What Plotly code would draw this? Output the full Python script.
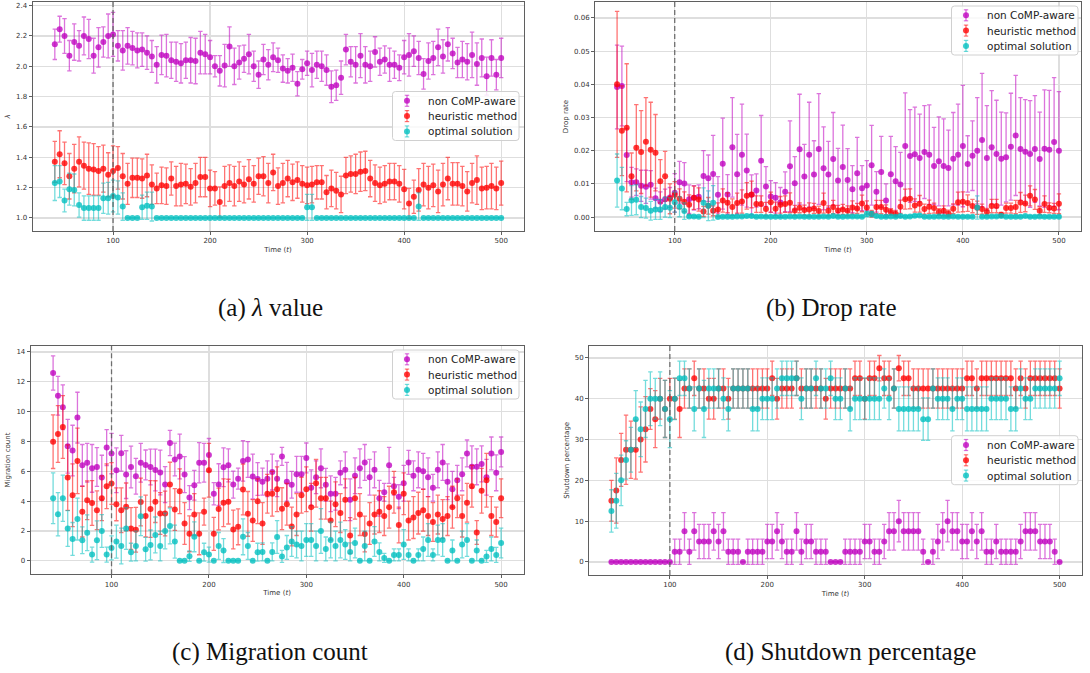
import plotly.graph_objects as go

# ---------------- data ----------------
time = list(range(40, 505, 5))  # 93 time steps

series_names = ["non CoMP-aware", "heuristic method", "optimal solution"]

# (a) lambda value
lam_non = [
    2.145, 2.245, 2.200, 2.070, 2.160, 2.135, 2.200, 2.180, 2.070, 2.125,
    2.160, 2.200, 2.210, 2.135, 2.105, 2.135, 2.120, 2.105, 2.110, 2.090,
    2.065, 2.010, 2.075, 2.070, 2.040, 2.030, 2.020, 2.040, 2.040, 2.035,
    2.090, 2.080, 2.060, 2.000, 1.970, 2.005, 2.130, 2.000, 2.025, 2.050,
    2.080, 2.000, 1.945, 2.045, 2.010, 2.060, 2.040, 1.985, 1.970, 1.990,
    1.885, 1.980, 2.020, 1.975, 2.010, 2.000, 1.975, 1.865, 1.875, 1.925,
    2.110, 2.030, 2.010, 2.070, 2.010, 2.000, 2.095, 2.030, 2.045, 2.010,
    2.010, 1.990, 2.060, 2.075, 2.100, 2.055, 1.950, 2.035, 2.055, 2.125,
    2.065, 2.145, 2.085, 2.025, 2.045, 2.030, 2.075, 2.015, 2.055, 1.935,
    2.055, 1.945, 2.055]
lam_non_err = [
    0.100, 0.085, 0.115, 0.100, 0.120, 0.100, 0.125, 0.130, 0.115, 0.130,
    0.100, 0.145, 0.145, 0.100, 0.130, 0.120, 0.110, 0.115, 0.110, 0.110,
    0.105, 0.120, 0.130, 0.140, 0.120, 0.130, 0.130, 0.120, 0.150, 0.150,
    0.140, 0.130, 0.110, 0.070, 0.100, 0.140, 0.130, 0.120, 0.110, 0.090,
    0.130, 0.100, 0.090, 0.100, 0.100, 0.095, 0.080, 0.090, 0.080, 0.090,
    0.080, 0.065, 0.080, 0.110, 0.090, 0.100, 0.100, 0.105, 0.100, 0.110,
    0.100, 0.100, 0.120, 0.145, 0.120, 0.100, 0.100, 0.090, 0.090, 0.110,
    0.090, 0.085, 0.110, 0.140, 0.100, 0.110, 0.100, 0.120, 0.110, 0.120,
    0.110, 0.110, 0.100, 0.100, 0.120, 0.120, 0.150, 0.140, 0.125, 0.125,
    0.120, 0.100, 0.130]
lam_heu = [
    1.370, 1.420, 1.360, 1.275, 1.325, 1.370, 1.345, 1.325, 1.320, 1.310,
    1.325, 1.285, 1.310, 1.330, 1.275, 1.225, 1.265, 1.265, 1.260, 1.280,
    1.220, 1.195, 1.215, 1.210, 1.260, 1.210, 1.220, 1.225, 1.205, 1.230,
    1.270, 1.270, 1.195, 1.195, 1.105, 1.210, 1.230, 1.210, 1.240, 1.220,
    1.255, 1.225, 1.275, 1.275, 1.230, 1.300, 1.210, 1.230, 1.260, 1.235,
    1.250, 1.225, 1.215, 1.220, 1.235, 1.235, 1.170, 1.195, 1.180, 1.155,
    1.280, 1.290, 1.290, 1.305, 1.310, 1.260, 1.230, 1.215, 1.225, 1.240,
    1.240, 1.225, 1.190, 1.095, 1.140, 1.185, 1.220, 1.200, 1.215, 1.175,
    1.220, 1.260, 1.225, 1.225, 1.210, 1.175, 1.230, 1.250, 1.195, 1.200,
    1.210, 1.195, 1.230]
lam_heu_err = [
    0.135, 0.155, 0.140, 0.150, 0.160, 0.165, 0.155, 0.170, 0.170, 0.160,
    0.155, 0.145, 0.165, 0.140, 0.150, 0.135, 0.130, 0.130, 0.130, 0.140,
    0.130, 0.100, 0.120, 0.120, 0.110, 0.130, 0.140, 0.130, 0.120, 0.130,
    0.130, 0.130, 0.120, 0.110, 0.100, 0.130, 0.120, 0.130, 0.130, 0.120,
    0.130, 0.120, 0.120, 0.130, 0.130, 0.120, 0.120, 0.130, 0.120, 0.120,
    0.120, 0.120, 0.120, 0.120, 0.110, 0.110, 0.110, 0.120, 0.120, 0.120,
    0.120, 0.120, 0.130, 0.130, 0.130, 0.120, 0.120, 0.120, 0.120, 0.120,
    0.120, 0.120, 0.130, 0.100, 0.110, 0.140, 0.140, 0.140, 0.140, 0.140,
    0.140, 0.140, 0.140, 0.140, 0.130, 0.130, 0.130, 0.160, 0.140, 0.140,
    0.150, 0.140, 0.145]
lam_opt = [
    1.230, 1.240, 1.115, 1.190, 1.185, 1.085, 1.065, 1.065, 1.065, 1.065,
    1.130, 1.130, 1.145, 1.135, 1.075, 1.000, 1.000, 1.000, 1.070, 1.080,
    1.075, 1.000, 1.000, 1.000, 1.000, 1.000, 1.000, 1.000, 1.000, 1.000,
    1.000, 1.000, 1.000, 1.000, 1.000, 1.000, 1.000, 1.000, 1.000, 1.000,
    1.000, 1.000, 1.000, 1.000, 1.000, 1.000, 1.000, 1.000, 1.000, 1.000,
    1.000, 1.000, 1.070, 1.070, 1.000, 1.000, 1.000, 1.000, 1.000, 1.000,
    1.000, 1.000, 1.000, 1.000, 1.000, 1.000, 1.000, 1.000, 1.000, 1.000,
    1.000, 1.000, 1.000, 1.000, 1.000, 1.075, 1.000, 1.000, 1.000, 1.000,
    1.000, 1.000, 1.000, 1.000, 1.000, 1.000, 1.000, 1.000, 1.000, 1.000,
    1.000, 1.000, 1.000]
lam_opt_err = [
    0.115, 0.105, 0.075, 0.105, 0.105, 0.080, 0.080, 0.080, 0.080, 0.080,
    0.100, 0.105, 0.105, 0.110, 0.090, 0.000, 0.000, 0.000, 0.080, 0.090,
    0.095, 0.000, 0.000, 0.000, 0.000, 0.000, 0.000, 0.000, 0.000, 0.000,
    0.000, 0.000, 0.000, 0.000, 0.000, 0.000, 0.000, 0.000, 0.000, 0.000,
    0.000, 0.000, 0.000, 0.000, 0.000, 0.000, 0.000, 0.000, 0.000, 0.000,
    0.000, 0.000, 0.085, 0.085, 0.000, 0.000, 0.000, 0.000, 0.000, 0.000,
    0.000, 0.000, 0.000, 0.000, 0.000, 0.000, 0.000, 0.000, 0.000, 0.000,
    0.000, 0.000, 0.000, 0.000, 0.000, 0.090, 0.000, 0.000, 0.000, 0.000,
    0.000, 0.000, 0.000, 0.000, 0.000, 0.000, 0.000, 0.000, 0.000, 0.000,
    0.000, 0.000, 0.000]

# (b) drop rate
drop_non = [
    0.0392, 0.0395, 0.0187, 0.0105, 0.0105, 0.0094, 0.0091, 0.0097, 0.0057, 0.0046,
    0.0054, 0.0059, 0.0073, 0.0105, 0.0101, 0.0054, 0.0058, 0.0061, 0.0124, 0.0117,
    0.0130, 0.0067, 0.0161, 0.0068, 0.0210, 0.0129, 0.0188, 0.0140, 0.0067, 0.0080,
    0.0170, 0.0092, 0.0062, 0.0058, 0.0044, 0.0076, 0.0153, 0.0102, 0.0204, 0.0122,
    0.0188, 0.0128, 0.0205, 0.0147, 0.0128, 0.0175, 0.0110, 0.0151, 0.0112, 0.0084,
    0.0132, 0.0087, 0.0095, 0.0156, 0.0076, 0.0136, 0.0050, 0.0129, 0.0108, 0.0098,
    0.0214, 0.0184, 0.0189, 0.0178, 0.0196, 0.0188, 0.0154, 0.0168, 0.0154, 0.0148,
    0.0176, 0.0188, 0.0214, 0.0160, 0.0185, 0.0200, 0.0232, 0.0178, 0.0210, 0.0190,
    0.0176, 0.0180, 0.0212, 0.0246, 0.0205, 0.0197, 0.0190, 0.0205, 0.0175, 0.0206,
    0.0203, 0.0226, 0.0200]
drop_non_err = [
    0.0126, 0.0120, 0.0080, 0.0045, 0.0040, 0.0047, 0.0050, 0.0043, 0.0030, 0.0030,
    0.0030, 0.0030, 0.0058, 0.0063, 0.0063, 0.0043, 0.0037, 0.0036, 0.0076, 0.0070,
    0.0116, 0.0055, 0.0137, 0.0060, 0.0150, 0.0120, 0.0152, 0.0110, 0.0060, 0.0050,
    0.0136, 0.0060, 0.0048, 0.0046, 0.0045, 0.0060, 0.0137, 0.0080, 0.0166, 0.0097,
    0.0158, 0.0102, 0.0167, 0.0125, 0.0100, 0.0140, 0.0097, 0.0126, 0.0094, 0.0071,
    0.0108, 0.0068, 0.0075, 0.0120, 0.0061, 0.0107, 0.0050, 0.0114, 0.0104, 0.0097,
    0.0160, 0.0140, 0.0142, 0.0132, 0.0140, 0.0150, 0.0116, 0.0134, 0.0142, 0.0114,
    0.0139, 0.0152, 0.0183, 0.0085, 0.0105, 0.0160, 0.0201, 0.0158, 0.0171, 0.0162,
    0.0140, 0.0134, 0.0161, 0.0181, 0.0155, 0.0157, 0.0161, 0.0161, 0.0141, 0.0177,
    0.0179, 0.0194, 0.0178]
drop_heu = [
    0.0400, 0.0260, 0.0269, 0.0123, 0.0209, 0.0196, 0.0227, 0.0203, 0.0194, 0.0108,
    0.0123, 0.0055, 0.0067, 0.0055, 0.0046, 0.0037, 0.0058, 0.0053, 0.0017, 0.0034,
    0.0019, 0.0023, 0.0050, 0.0043, 0.0030, 0.0042, 0.0047, 0.0064, 0.0068, 0.0039,
    0.0039, 0.0024, 0.0045, 0.0025, 0.0037, 0.0039, 0.0043, 0.0020, 0.0028, 0.0021,
    0.0023, 0.0026, 0.0018, 0.0042, 0.0019, 0.0030, 0.0020, 0.0023, 0.0019, 0.0029,
    0.0026, 0.0041, 0.0029, 0.0010, 0.0030, 0.0030, 0.0022, 0.0015, 0.0010, 0.0031,
    0.0054, 0.0055, 0.0035, 0.0040, 0.0024, 0.0031, 0.0027, 0.0015, 0.0019, 0.0011,
    0.0025, 0.0045, 0.0046, 0.0042, 0.0033, 0.0028, 0.0024, 0.0016, 0.0033, 0.0033,
    0.0007, 0.0027, 0.0027, 0.0030, 0.0044, 0.0041, 0.0064, 0.0053, 0.0019, 0.0039,
    0.0028, 0.0026, 0.0040]
drop_heu_err = [
    0.0220, 0.0135, 0.0193, 0.0070, 0.0130, 0.0125, 0.0133, 0.0143, 0.0115, 0.0065,
    0.0075, 0.0045, 0.0040, 0.0030, 0.0030, 0.0030, 0.0035, 0.0035, 0.0015, 0.0025,
    0.0015, 0.0020, 0.0035, 0.0030, 0.0025, 0.0030, 0.0035, 0.0040, 0.0040, 0.0025,
    0.0025, 0.0020, 0.0030, 0.0020, 0.0025, 0.0025, 0.0030, 0.0015, 0.0015, 0.0015,
    0.0020, 0.0015, 0.0015, 0.0030, 0.0015, 0.0020, 0.0015, 0.0015, 0.0015, 0.0020,
    0.0015, 0.0025, 0.0020, 0.0010, 0.0020, 0.0020, 0.0015, 0.0010, 0.0010, 0.0020,
    0.0030, 0.0030, 0.0020, 0.0025, 0.0015, 0.0020, 0.0015, 0.0010, 0.0015, 0.0010,
    0.0015, 0.0030, 0.0030, 0.0025, 0.0020, 0.0020, 0.0015, 0.0010, 0.0020, 0.0020,
    0.0007, 0.0015, 0.0015, 0.0020, 0.0030, 0.0025, 0.0030, 0.0030, 0.0012, 0.0025,
    0.0015, 0.0015, 0.0030]
drop_opt = [
    0.0110, 0.0086, 0.0024, 0.0050, 0.0052, 0.0030, 0.0027, 0.0019, 0.0023, 0.0023,
    0.0030, 0.0028, 0.0045, 0.0031, 0.0018, 0.0002, 0.0002, 0.0001, 0.0043, 0.0034,
    0.0043, 0.0000, 0.0001, 0.0001, 0.0001, 0.0002, 0.0002, 0.0003, 0.0003, 0.0001,
    0.0002, 0.0001, 0.0001, 0.0001, 0.0001, 0.0001, 0.0002, 0.0001, 0.0002, 0.0001,
    0.0001, 0.0001, 0.0001, 0.0002, 0.0001, 0.0003, 0.0001, 0.0001, 0.0002, 0.0002,
    0.0002, 0.0001, 0.0009, 0.0009, 0.0003, 0.0001, 0.0001, 0.0002, 0.0001, 0.0003,
    0.0001, 0.0002, 0.0004, 0.0005, 0.0001, 0.0001, 0.0001, 0.0002, 0.0001, 0.0001,
    0.0002, 0.0001, 0.0001, 0.0001, 0.0001, 0.0029, 0.0001, 0.0001, 0.0002, 0.0002,
    0.0003, 0.0001, 0.0001, 0.0001, 0.0001, 0.0003, 0.0001, 0.0001, 0.0002, 0.0001,
    0.0001, 0.0001, 0.0001]
drop_opt_err = [
    0.0080, 0.0064, 0.0020, 0.0045, 0.0045, 0.0032, 0.0030, 0.0028, 0.0030, 0.0030,
    0.0030, 0.0030, 0.0030, 0.0030, 0.0025, 0.0003, 0.0003, 0.0002, 0.0045, 0.0045,
    0.0052, 0.0003, 0.0003, 0.0003, 0.0003, 0.0003, 0.0003, 0.0003, 0.0003, 0.0003,
    0.0003, 0.0003, 0.0003, 0.0003, 0.0003, 0.0003, 0.0003, 0.0003, 0.0003, 0.0003,
    0.0003, 0.0003, 0.0003, 0.0003, 0.0003, 0.0003, 0.0003, 0.0003, 0.0003, 0.0003,
    0.0003, 0.0003, 0.0008, 0.0008, 0.0003, 0.0003, 0.0003, 0.0003, 0.0003, 0.0003,
    0.0003, 0.0003, 0.0003, 0.0003, 0.0003, 0.0003, 0.0003, 0.0003, 0.0003, 0.0003,
    0.0003, 0.0003, 0.0003, 0.0003, 0.0003, 0.0035, 0.0003, 0.0003, 0.0003, 0.0003,
    0.0003, 0.0003, 0.0003, 0.0003, 0.0003, 0.0003, 0.0003, 0.0003, 0.0003, 0.0003,
    0.0003, 0.0003, 0.0003]

# (c) migration count
mig_non = [
    12.59, 11.07, 10.29, 7.68, 7.39, 9.60, 6.40, 6.58, 6.20, 6.29,
    5.58, 7.59, 7.19, 6.07, 7.21, 5.78, 6.29, 5.67, 6.58, 6.43,
    6.29, 6.09, 5.92, 5.11, 7.90, 6.79, 7.00, 5.78, 4.24, 5.07,
    6.58, 6.58, 7.10, 4.50, 5.11, 6.27, 6.40, 5.11, 5.51, 6.70,
    6.79, 5.65, 5.49, 5.31, 5.50, 5.95, 5.50, 7.00, 5.30, 5.10,
    5.80, 5.80, 6.90, 4.90, 5.60, 6.20, 5.10, 4.50, 4.50, 5.90,
    6.10, 4.10, 5.70, 6.20, 6.60, 5.60, 6.10, 4.20, 4.60, 6.40,
    5.00, 4.30, 5.20, 6.60, 5.70, 6.10, 6.00, 5.60, 4.90, 6.10,
    6.60, 5.30, 4.80, 5.40, 5.80, 7.20, 6.30, 6.30, 6.50, 5.60,
    7.20, 5.90, 7.30]
mig_non_err = [
    1.15, 1.30, 1.50, 1.80, 1.70, 1.70, 1.40, 1.30, 1.60, 1.30,
    1.50, 1.20, 1.35, 1.50, 1.20, 1.60, 1.40, 1.20, 1.30, 1.00,
    1.20, 1.40, 1.50, 1.20, 0.85, 1.10, 1.50, 1.20, 0.80, 1.00,
    1.35, 1.30, 1.10, 0.75, 1.40, 1.30, 1.10, 0.90, 0.70, 1.35,
    1.20, 1.50, 1.10, 0.90, 1.20, 1.20, 1.20, 0.60, 1.30, 0.90,
    1.20, 1.20, 1.00, 1.20, 1.10, 1.30, 1.10, 1.20, 1.10, 0.80,
    1.20, 1.40, 1.20, 1.30, 1.20, 1.20, 1.20, 1.20, 0.60, 1.20,
    0.60, 0.80, 1.20, 0.80, 1.00, 1.20, 1.20, 1.30, 0.90, 1.20,
    1.20, 1.20, 1.20, 1.00, 1.10, 0.90, 1.40, 1.20, 1.20, 1.20,
    1.10, 1.20, 1.00]
mig_heu = [
    7.99, 8.50, 8.97, 5.58, 4.40, 6.70, 3.30, 4.06, 3.88, 3.39,
    4.20, 5.00, 5.18, 3.79, 3.39, 3.62, 2.17, 2.08, 3.95, 3.01,
    3.48, 3.97, 3.17, 3.17, 5.11, 3.44, 4.67, 2.50, 1.81, 3.10,
    1.81, 3.30, 6.07, 1.81, 3.48, 3.90, 3.97, 2.10, 2.28, 4.78,
    3.15, 2.70, 4.00, 2.50, 4.50, 4.50, 4.80, 3.50, 3.80, 2.30,
    3.10, 4.40, 4.80, 3.60, 5.20, 4.20, 4.20, 2.70, 3.80, 3.20,
    4.10, 1.70, 4.20, 3.10, 1.80, 2.50, 3.10, 3.30, 3.00, 3.60,
    4.60, 2.40, 4.50, 2.70, 2.90, 3.20, 3.40, 3.00, 2.60, 3.10,
    2.80, 3.00, 3.60, 4.20, 3.00, 3.90, 5.00, 1.90, 4.70, 5.40,
    3.00, 2.60, 4.20]
mig_heu_err = [
    1.80, 1.90, 2.10, 2.20, 2.10, 2.20, 1.70, 1.30, 1.50, 1.30,
    1.50, 1.50, 1.40, 1.10, 1.50, 1.60, 1.40, 1.50, 1.60, 1.40,
    1.90, 1.40, 1.40, 1.50, 1.50, 1.40, 1.50, 1.40, 1.20, 1.40,
    1.40, 0.90, 1.80, 1.10, 1.40, 1.60, 1.50, 1.30, 1.20, 1.70,
    1.50, 1.40, 1.50, 1.40, 1.30, 1.50, 1.50, 1.40, 1.40, 1.30,
    1.40, 1.20, 1.50, 1.60, 1.60, 1.40, 1.40, 1.30, 1.50, 1.30,
    1.40, 1.20, 1.40, 1.40, 1.20, 1.40, 1.30, 1.40, 1.30, 1.40,
    1.40, 1.20, 1.40, 1.30, 1.40, 1.40, 1.40, 1.30, 1.30, 1.30,
    1.30, 1.30, 1.40, 1.30, 1.40, 1.30, 1.40, 0.80, 1.50, 1.80,
    1.30, 1.00, 1.30]
mig_opt = [
    4.20, 3.13, 4.20, 2.17, 1.47, 2.80, 1.38, 1.88, 0.42, 1.38,
    2.00, 0.42, 0.87, 1.29, 1.00, 2.17, 0.58, 1.00, 2.99, 0.78,
    1.07, 1.74, 1.00, 2.00, 2.34, 1.29, 0.00, 0.00, 0.31, 1.61,
    0.00, 0.58, 0.42, 0.00, 1.00, 0.69, 0.00, 0.00, 0.00, 1.61,
    1.00, 0.00, 0.58, 0.60, 0.00, 0.60, 1.60, 0.30, 0.90, 1.30,
    1.10, 1.00, 1.40, 1.40, 1.00, 2.00, 0.80, 1.40, 1.00, 1.40,
    1.10, 0.60, 1.20, 0.00, 1.00, 0.00, 1.30, 0.60, 0.20, 0.00,
    0.40, 0.40, 1.10, 0.40, 0.00, 0.40, 0.80, 1.40, 0.40, 1.40,
    1.40, 0.00, 0.70, 0.00, 1.10, 1.40, 0.00, 0.70, 0.00, 0.30,
    0.80, 0.40, 1.20]
mig_opt_err = [
    1.70, 1.45, 1.55, 1.20, 1.10, 1.40, 0.90, 1.20, 0.50, 1.30,
    1.10, 0.50, 0.80, 1.10, 1.20, 1.40, 0.60, 1.00, 1.30, 0.80,
    1.00, 1.20, 1.00, 1.20, 1.20, 1.10, 0.00, 0.00, 0.35, 1.00,
    0.00, 0.60, 0.50, 0.00, 0.90, 0.80, 0.00, 0.00, 0.00, 1.20,
    0.90, 0.00, 0.60, 0.60, 0.00, 0.60, 1.10, 0.40, 0.80, 1.00,
    0.90, 1.00, 1.10, 1.10, 1.00, 1.50, 0.80, 1.20, 1.00, 1.20,
    1.00, 0.60, 1.00, 0.00, 1.00, 0.00, 1.00, 0.60, 0.30, 0.00,
    0.40, 0.40, 1.00, 0.40, 0.00, 0.40, 0.80, 1.10, 0.40, 1.00,
    1.10, 0.00, 0.70, 0.00, 0.90, 1.10, 0.00, 0.70, 0.00, 0.40,
    0.80, 0.50, 1.00]

# (d) shutdown percentage
shut_non = [
    0.0, 0.0, 0.0, 0.0, 0.0, 0.0, 0.0, 0.0, 0.0, 0.0,
    0.0, 0.0, 0.0, 2.5, 2.5, 7.5, 2.5, 7.5, 5.0, 5.0,
    5.0, 7.5, 5.0, 7.5, 2.5, 2.5, 2.5, 0.0, 2.5, 2.5,
    2.5, 2.5, 5.0, 5.0, 7.5, 5.0, 2.5, 2.5, 7.5, 2.5,
    5.0, 5.0, 2.5, 2.5, 2.5, 0.0, 0.0, 0.0, 2.5, 2.5,
    2.5, 2.5, 5.0, 5.0, 2.5, 2.5, 5.0, 7.5, 7.5, 10.0,
    7.5, 7.5, 7.5, 7.5, 2.5, 0.0, 2.5, 5.0, 7.5, 10.0,
    7.5, 7.5, 5.0, 5.0, 7.5, 5.0, 7.5, 2.5, 2.5, 5.0,
    2.5, 2.5, 2.5, 2.5, 5.0, 7.5, 7.5, 7.5, 5.0, 5.0,
    5.0, 2.5, 0.0]
shut_non_err = [
    0.0, 0.0, 0.0, 0.0, 0.0, 0.0, 0.0, 0.0, 0.0, 0.0,
    0.0, 0.0, 0.0, 3.1, 3.1, 4.6, 3.1, 4.6, 4.2, 4.2,
    4.2, 4.6, 4.2, 4.6, 3.1, 3.1, 3.1, 0.0, 3.1, 3.1,
    3.1, 3.1, 4.2, 4.2, 4.6, 4.2, 3.1, 3.1, 4.6, 3.1,
    4.2, 4.2, 3.1, 3.1, 3.1, 0.0, 0.0, 0.0, 3.1, 3.1,
    3.1, 3.1, 4.2, 4.2, 3.1, 3.1, 4.2, 4.6, 4.6, 5.1,
    4.6, 4.6, 4.6, 4.6, 3.1, 0.0, 3.1, 4.2, 4.6, 5.1,
    4.6, 4.6, 4.2, 4.2, 4.6, 4.2, 4.6, 3.1, 3.1, 4.2,
    3.1, 3.1, 3.1, 3.1, 4.2, 4.6, 4.6, 4.6, 4.2, 4.2,
    4.2, 3.1, 0.0]
shut_heu = [
    15.0, 17.5, 25.0, 27.5, 27.5, 27.5, 30.0, 32.5, 37.5, 35.0,
    40.0, 37.5, 40.0, 40.0, 37.5, 42.5, 42.5, 45.0, 42.5, 42.5,
    40.0, 40.0, 42.5, 42.5, 40.0, 42.5, 42.5, 42.5, 42.5, 42.5,
    42.5, 42.5, 42.5, 45.0, 40.0, 42.5, 42.5, 42.5, 45.0, 42.5,
    42.5, 42.5, 42.5, 42.5, 40.0, 42.5, 42.5, 42.5, 42.5, 42.5,
    45.0, 45.0, 40.0, 45.0, 45.0, 47.5, 45.0, 45.0, 42.5, 47.5,
    45.0, 45.0, 42.5, 42.5, 42.5, 42.5, 42.5, 42.5, 42.5, 42.5,
    42.5, 42.5, 42.5, 45.0, 45.0, 42.5, 45.0, 45.0, 45.0, 45.0,
    45.0, 45.0, 45.0, 42.5, 45.0, 42.5, 45.0, 45.0, 45.0, 45.0,
    45.0, 45.0, 42.5]
shut_heu_err = [
    5.0, 8.0, 6.5, 8.5, 7.0, 7.2, 8.0, 8.0, 5.0, 7.0,
    5.0, 7.0, 5.0, 5.0, 7.0, 4.8, 4.8, 4.2, 4.8, 4.8,
    5.0, 5.0, 4.8, 4.8, 5.0, 4.8, 4.8, 4.8, 4.8, 4.8,
    4.8, 4.8, 4.8, 4.2, 5.0, 4.8, 4.8, 4.8, 4.2, 4.8,
    4.8, 4.8, 4.8, 4.8, 5.0, 4.8, 4.8, 4.8, 4.8, 4.8,
    4.2, 4.2, 5.0, 4.2, 4.2, 3.1, 4.2, 4.2, 4.8, 3.1,
    4.2, 4.2, 4.8, 4.8, 4.8, 4.8, 4.8, 4.8, 4.8, 4.8,
    4.8, 4.8, 4.8, 4.2, 4.2, 4.8, 4.2, 4.2, 4.2, 4.2,
    4.2, 4.2, 4.2, 4.8, 4.2, 4.8, 4.2, 4.2, 4.2, 4.2,
    4.2, 4.2, 4.8]
shut_opt = [
    12.5, 15.0, 20.0, 25.0, 27.5, 35.0, 32.5, 37.5, 40.0, 40.0,
    40.0, 37.5, 35.0, 40.0, 45.0, 45.0, 42.5, 37.5, 42.5, 37.5,
    42.5, 42.5, 42.5, 40.0, 37.5, 42.5, 42.5, 42.5, 42.5, 37.5,
    37.5, 40.0, 40.0, 40.0, 42.5, 45.0, 45.0, 45.0, 45.0, 40.0,
    42.5, 42.5, 45.0, 42.5, 42.5, 45.0, 40.0, 40.0, 42.5, 37.5,
    40.0, 40.0, 40.0, 40.0, 40.0, 40.0, 42.5, 40.0, 42.5, 37.5,
    37.5, 37.5, 37.5, 37.5, 35.0, 35.0, 42.5, 40.0, 40.0, 40.0,
    37.5, 40.0, 40.0, 37.5, 37.5, 37.5, 37.5, 37.5, 40.0, 40.0,
    40.0, 40.0, 37.5, 37.5, 42.5, 40.0, 40.0, 42.5, 42.5, 42.5,
    42.5, 42.5, 45.0]
shut_opt_err = [
    5.2, 6.7, 6.2, 4.7, 5.5, 7.0, 6.7, 7.0, 6.6, 5.0,
    6.6, 7.0, 7.0, 5.1, 4.2, 4.2, 4.8, 5.4, 4.8, 7.0,
    4.8, 4.8, 4.8, 5.1, 5.4, 4.8, 4.8, 4.8, 4.8, 5.4,
    5.4, 5.1, 5.1, 5.1, 4.8, 4.2, 4.2, 4.2, 4.2, 5.1,
    4.8, 4.8, 4.2, 4.8, 4.8, 4.2, 5.1, 5.1, 4.8, 5.4,
    5.1, 5.1, 5.1, 5.1, 5.1, 5.1, 4.8, 5.1, 4.8, 5.4,
    5.4, 5.4, 5.4, 5.4, 5.2, 5.2, 4.8, 5.1, 5.1, 5.1,
    5.4, 5.1, 5.1, 5.4, 5.4, 5.4, 5.4, 5.4, 5.1, 5.1,
    5.1, 5.1, 5.4, 5.4, 4.8, 5.1, 5.1, 4.8, 4.8, 4.8,
    4.8, 4.8, 4.2]

x_ticks = [100, 200, 300, 400, 500]

# ---------------- styling ----------------
W, H = 1090, 673
RGB = [(191, 0, 191), (255, 0, 0), (0, 191, 191)]
MARK = ["rgba(%d,%d,%d,0.78)" % c for c in RGB]
ERRC = ["rgba(%d,%d,%d,0.55)" % c for c in RGB]
GRID = "rgb(222,222,222)"
FRAME = "rgb(95,95,95)"
TICKFONT = dict(family="DejaVu Sans", size=7, color="#333333")


def px_x(a, b):
    return [a / W, b / W]


def px_y(top, bottom):
    return [1 - bottom / H, 1 - top / H]


def PX(x):
    return x / W


def PY(y):
    return 1 - y / H


panels = [
    dict(sfx="", xd=px_x(32.5, 523.5), yd=px_y(2, 231), yr=[0.914, 2.424],
         ytick=dict(tickvals=[1.0, 1.2, 1.4, 1.6, 1.8, 2.0, 2.2, 2.4], tickformat=".1f"),
         ytitle="<i>λ</i>", data=[(lam_non, lam_non_err), (lam_heu, lam_heu_err), (lam_opt, lam_opt_err)],
         leg=(392.5, 91.5)),
    dict(sfx="2", xd=px_x(595, 1081), yd=px_y(2, 231), yr=[-0.0042, 0.0648],
         ytick=dict(tickvals=[0, 0.01, 0.02, 0.03, 0.04, 0.05, 0.06], tickformat=".2f"),
         ytitle="Drop rate", data=[(drop_non, drop_non_err), (drop_heu, drop_heu_err), (drop_opt, drop_opt_err)],
         leg=(951.5, 6)),
    dict(sfx="3", xd=px_x(30.7, 523.5), yd=px_y(345.7, 574.3), yr=[-0.9, 14.42],
         ytick=dict(tickvals=[0, 2, 4, 6, 8, 10, 12, 14]),
         ytitle="Migration count", data=[(mig_non, mig_non_err), (mig_heu, mig_heu_err), (mig_opt, mig_opt_err)],
         leg=(392.5, 350)),
    dict(sfx="4", xd=px_x(589, 1082), yd=px_y(345.7, 575), yr=[-3.2, 53.0],
         ytick=dict(tickvals=[0, 10, 20, 30, 40, 50]),
         ytitle="Shutdown percentage", data=[(shut_non, shut_non_err), (shut_heu, shut_heu_err), (shut_opt, shut_opt_err)],
         leg=(951.5, 435.7)),
]

fig = go.Figure()
shapes, annotations = [], []
layout = dict(width=W, height=H, autosize=False, margin=dict(l=0, r=0, t=0, b=0),
              paper_bgcolor="white", plot_bgcolor="white", showlegend=False,
              font=dict(family="DejaVu Sans", color="#222222"))

LEG_W, LEG_H = 126.5, 49
for p in panels:
    s = p["sfx"]
    xa, ya = "x" + s, "y" + s
    for k, (vals, errs) in enumerate(p["data"]):
        fig.add_trace(go.Scatter(
            x=time, y=vals, mode="markers", name=series_names[k],
            xaxis=xa, yaxis=ya,
            marker=dict(size=6, color=MARK[k], line=dict(width=0)),
            error_y=dict(type="data", array=errs, visible=True, color=ERRC[k],
                         thickness=1.3, width=2.2),
        ))
    layout["xaxis" + s] = dict(
        domain=p["xd"], anchor=ya, range=[17, 523], tickvals=x_ticks, automargin=False,
        showgrid=True, gridcolor=GRID, gridwidth=1.2, zeroline=False,
        showline=True, mirror=True, linecolor=FRAME, linewidth=1,
        ticks="outside", ticklen=3, tickcolor=FRAME, tickfont=TICKFONT,
        title=dict(text="Time (<i>t</i>)", font=dict(family="DejaVu Sans", size=7, color="#333333"), standoff=2),
    )
    layout["yaxis" + s] = dict(
        domain=p["yd"], anchor=xa, range=p["yr"], automargin=False, **p["ytick"],
        showgrid=True, gridcolor=GRID, gridwidth=1.2, zeroline=False,
        showline=True, mirror=True, linecolor=FRAME, linewidth=1,
        ticks="outside", ticklen=3, tickcolor=FRAME, tickfont=TICKFONT,
        title=dict(text=p["ytitle"], font=dict(family="DejaVu Sans", size=7, color="#333333"), standoff=4),
    )
    shapes.append(dict(
        type="line", xref=xa, yref=ya + " domain", x0=100, x1=100, y0=0, y1=1,
        line=dict(color="rgba(90,90,90,0.85)", width=1.3, dash="5px,3px"),
    ))

    # legend box (matplotlib style, rounded corners)
    lx, ly = p["leg"]
    r = 3
    x0, x1, y0, y1 = lx, lx + LEG_W, ly, ly + LEG_H
    path = (f"M {PX(x0 + r)},{PY(y0)} L {PX(x1 - r)},{PY(y0)} "
            f"Q {PX(x1)},{PY(y0)} {PX(x1)},{PY(y0 + r)} L {PX(x1)},{PY(y1 - r)} "
            f"Q {PX(x1)},{PY(y1)} {PX(x1 - r)},{PY(y1)} L {PX(x0 + r)},{PY(y1)} "
            f"Q {PX(x0)},{PY(y1)} {PX(x0)},{PY(y1 - r)} L {PX(x0)},{PY(y0 + r)} "
            f"Q {PX(x0)},{PY(y0)} {PX(x0 + r)},{PY(y0)} Z")
    shapes.append(dict(type="path", xref="paper", yref="paper", path=path,
                       fillcolor="rgba(255,255,255,0.82)",
                       line=dict(color="rgb(208,208,208)", width=1)))
    for k in range(3):
        cy = ly + 9.3 + 15.3 * k
        mx = lx + 14.5
        shapes.append(dict(type="line", xref="paper", yref="paper",
                           x0=PX(mx), x1=PX(mx), y0=PY(cy - 5.5), y1=PY(cy + 5.5),
                           line=dict(color=ERRC[k], width=1.3)))
        for dy in (-5.5, 5.5):
            shapes.append(dict(type="line", xref="paper", yref="paper",
                               x0=PX(mx - 2.2), x1=PX(mx + 2.2), y0=PY(cy + dy), y1=PY(cy + dy),
                               line=dict(color=ERRC[k], width=1.2)))
        shapes.append(dict(type="circle", xref="paper", yref="paper",
                           x0=PX(mx - 3), x1=PX(mx + 3), y0=PY(cy + 3), y1=PY(cy - 3),
                           fillcolor=MARK[k], line=dict(width=0)))
        annotations.append(dict(
            text=series_names[k], x=PX(lx + 33), y=PY(cy), xref="paper", yref="paper",
            xanchor="left", yanchor="middle", showarrow=False,
            font=dict(family="DejaVu Sans", size=10.5, color="#222222"),
        ))

captions = [
    ("(a) <i>λ</i> value", 270, 308),
    ("(b) Drop rate", 831, 308),
    ("(c) Migration count", 270, 652),
    ("(d) Shutdown percentage", 850, 652),
]
for text, cx, cy in captions:
    annotations.append(dict(
        text=text, x=cx / W, y=1 - cy / H, xref="paper", yref="paper",
        xanchor="center", yanchor="middle", showarrow=False,
        font=dict(family="Liberation Serif", size=25, color="#111111"),
    ))

layout["shapes"] = shapes
layout["annotations"] = annotations
fig.update_layout(**layout)
fig.write_html("out.html",
               config={"displayModeBar": False, "staticPlot": True},
               post_script="document.body.style.margin='0';document.body.style.padding='0';")
